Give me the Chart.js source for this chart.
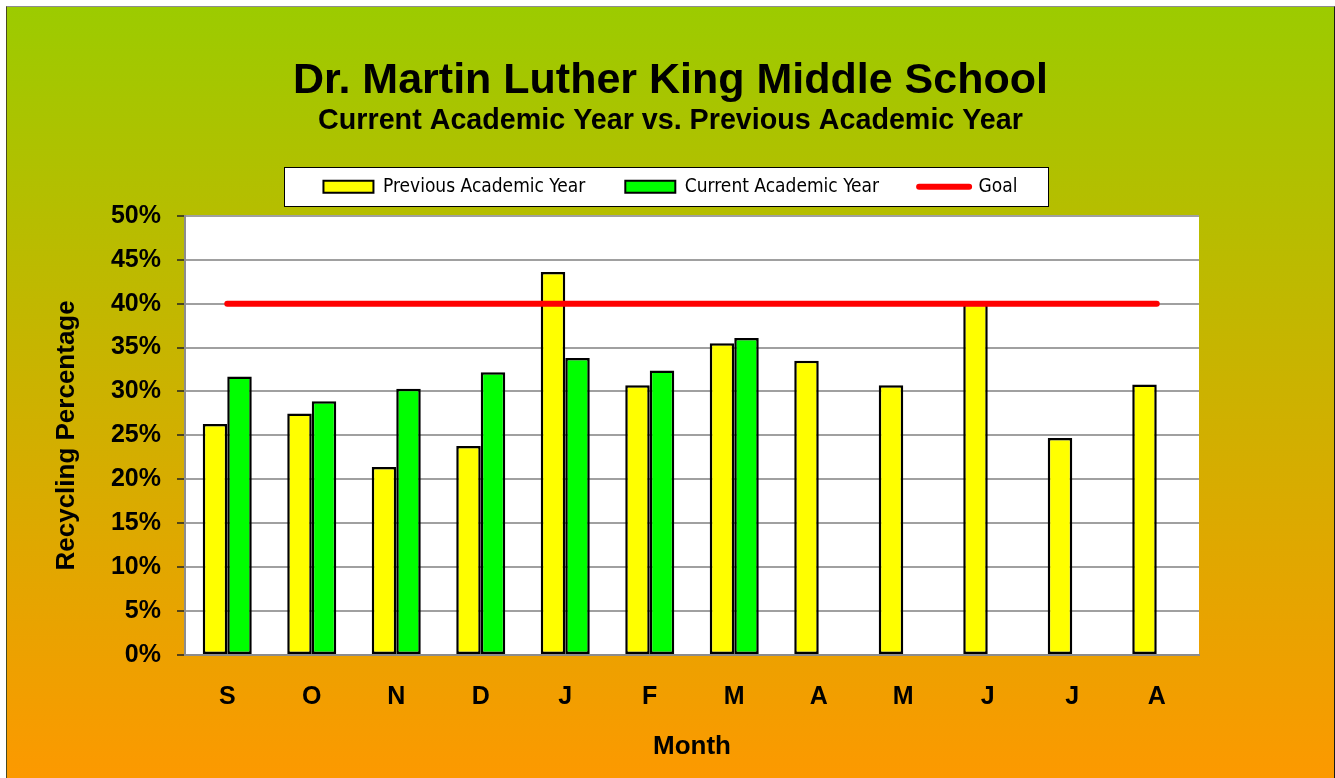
<!DOCTYPE html>
<html>
<head>
<meta charset="utf-8">
<title>Recycling Percentage</title>
<script src="https://cdn.jsdelivr.net/npm/chart.js@4.4.1/dist/chart.umd.min.js"></script>
<style>
  html, body { margin: 0; padding: 0; background: #fff; }
  #frame {
    position: absolute; left: 6px; top: 6px;
    width: 1327px; height: 772px; overflow: hidden;
    border-top: 1px solid #8c8c8c;
    border-left: 1px solid #4a4a20;
    border-right: 1px solid #1a1a1a;
  }
  #frame canvas { display: block; }
</style>
</head>
<body>
<div id="frame"><canvas id="chart" width="1327" height="771"></canvas></div>
<script>
// chart data
const months = ["S", "O", "N", "D", "J", "F", "M", "A", "M", "J", "J", "A"];
const previousYear = [26.3, 27.5, 21.4, 23.8, 43.6, 30.7, 35.5, 33.5, 30.7, 40.0, 24.7, 30.8];
const currentYear = [31.7, 28.9, 30.3, 32.2, 33.8, 32.4, 36.1, null, null, null, null, null];
const goal = [40, 40, 40, 40, 40, 40, 40, 40, 40, 40, 40, 40];

const SANS = '"Liberation Sans", Arial, sans-serif';
const NARROW = '"Liberation Sans Narrow", "Arial Narrow", "DejaVu Sans Condensed", sans-serif';

// gradient backdrop, white plot area and the framed legend
const backdrop = {
  id: "backdrop",
  beforeDraw(chart) {
    const { ctx, width, height, chartArea } = chart;
    ctx.save();
    const g = ctx.createLinearGradient(0, 0, 0, height);
    g.addColorStop(0, "#9ccb00");
    g.addColorStop(1, "#fc9900");
    ctx.fillStyle = g;
    ctx.fillRect(0, 0, width, height);

    ctx.fillStyle = "#fff";
    ctx.fillRect(chartArea.left, chartArea.top, chartArea.width, chartArea.height);

    const boxes = chart.legend.legendHitBoxes;
    if (boxes && boxes.length) {
      const first = boxes[0];
      const last = boxes[boxes.length - 1];
      const left = Math.round(first.left - 39) + 0.5;
      const right = Math.round(last.left + last.width + 30) + 0.5;
      const mid = first.top + first.height / 2;
      const top = Math.round(mid - 20) + 0.5;
      ctx.fillStyle = "#fff";
      ctx.strokeStyle = "#000";
      ctx.lineWidth = 1;
      ctx.fillRect(left, top, right - left, 39);
      ctx.strokeRect(left, top, right - left, 39);
    }
    ctx.restore();
  }
};

// blank layout boxes: a gap under the legend and a margin right of the plot
function spacer(position, size) {
  return {
    position: position,
    weight: 0,
    fullSize: false,
    options: {},
    isHorizontal: () => position === "top" || position === "bottom",
    update(maxWidth, maxHeight) {
      if (this.isHorizontal()) {
        this.width = maxWidth;
        this.height = size;
      } else {
        this.width = size;
        this.height = maxHeight;
      }
    },
    draw() {}
  };
}

const spacers = {
  id: "spacers",
  beforeInit(chart) {
    Chart.layouts.addBox(chart, spacer("top", 9.5));
    Chart.layouts.addBox(chart, spacer("right", 135));
  }
};

new Chart(document.getElementById("chart"), {
  type: "bar",
  data: {
    labels: months,
    datasets: [
      {
        type: "bar",
        label: "Previous Academic Year",
        data: previousYear,
        backgroundColor: "#ffff00",
        borderColor: "#000",
        borderWidth: 2.5,
        borderSkipped: false,
        order: 1
      },
      {
        type: "bar",
        label: "Current Academic Year",
        data: currentYear,
        backgroundColor: "#00ff00",
        borderColor: "#000",
        borderWidth: 2.5,
        borderSkipped: false,
        order: 1
      },
      {
        type: "line",
        label: "Goal",
        data: goal,
        borderColor: "#ff0000",
        backgroundColor: "#ff0000",
        borderWidth: 6,
        borderCapStyle: "round",
        pointRadius: 0,
        tension: 0,
        order: 0
      }
    ]
  },
  options: {
    responsive: false,
    animation: false,
    datasets: { bar: { categoryPercentage: 0.58, barPercentage: 1.0 } },
    layout: { padding: 0 },
    plugins: {
      title: {
        display: true,
        text: "Dr. Martin Luther King Middle School",
        color: "#000",
        font: { family: SANS, size: 43, weight: "bold", lineHeight: 1.1 },
        padding: { top: 50, bottom: 0 }
      },
      subtitle: {
        display: true,
        text: "Current Academic Year vs. Previous Academic Year",
        color: "#000",
        font: { family: SANS, size: 28.7, weight: "bold", lineHeight: 1.15 },
        padding: { top: 0, bottom: 0 }
      },
      legend: {
        position: "top",
        labels: {
          usePointStyle: true,
          pointStyleWidth: 50,
          boxHeight: 12,
          padding: 40,
          color: "#000",
          font: { family: NARROW, size: 19 },
          generateLabels(chart) {
            return chart.data.datasets.map((ds, i) => ({
              text: ds.label,
              datasetIndex: i,
              fillStyle: ds.backgroundColor,
              strokeStyle: ds.type === "line" ? ds.borderColor : "#000",
              lineWidth: ds.type === "line" ? 6 : 2,
              lineCap: "round",
              pointStyle: ds.type === "line" ? "line" : "rect",
              fontColor: "#000",
              hidden: false
            }));
          }
        }
      },
      tooltip: { enabled: false }
    },
    scales: {
      x: {
        offset: true,
        grid: { display: false, drawTicks: false },
        border: { display: true, color: "#8c8c8c", width: 2 },
        ticks: {
          color: "#000",
          font: { family: SANS, size: 25, weight: "bold" },
          padding: 27,
          maxRotation: 0,
          autoSkip: false
        },
        title: {
          display: true,
          text: "Month",
          color: "#000",
          font: { family: SANS, size: 26, weight: "bold" },
          padding: { top: 0, bottom: 16 }
        },
        afterFit(scale) { scale.height = 123; }
      },
      y: {
        min: 0,
        max: 50,
        ticks: {
          stepSize: 5,
          callback: v => v + "%",
          color: "#000",
          font: { family: SANS, size: 25, weight: "bold" },
          padding: 16
        },
        grid: { color: "#a0a0a0", lineWidth: 2, tickColor: "#222", tickLength: 8, tickWidth: 1.5 },
        border: { color: "#8c8c8c", width: 2 },
        title: {
          display: true,
          text: "Recycling Percentage",
          color: "#000",
          font: { family: SANS, size: 26, weight: "bold" },
          padding: { top: 44, bottom: 0 }
        },
        afterFit(scale) { scale.width = 178; }
      }
    }
  },
  plugins: [backdrop, spacers]
});
</script>
</body>
</html>
